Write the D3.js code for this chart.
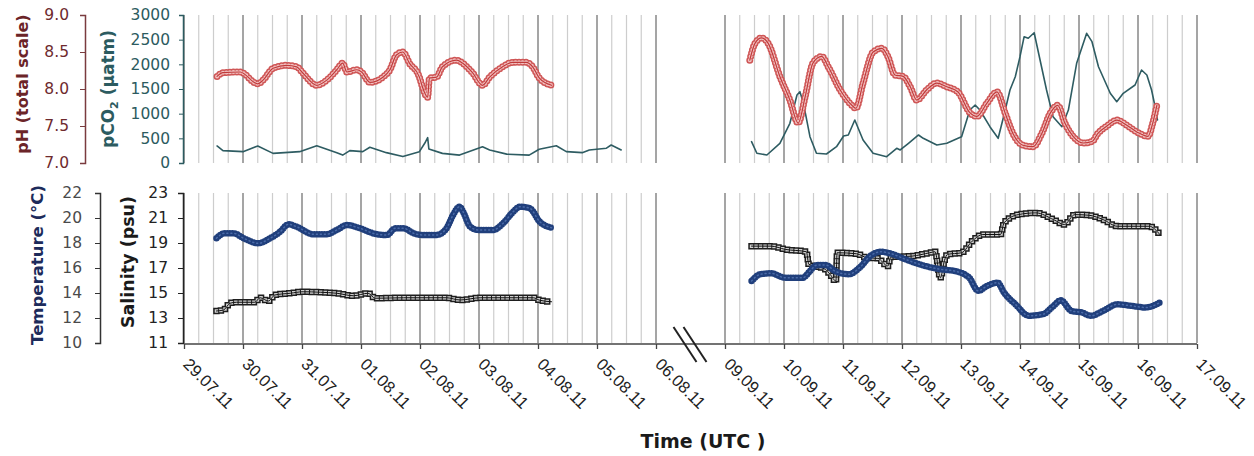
<!DOCTYPE html>
<meta charset="utf-8">
<style>
body{margin:0;background:#fff;}
svg{display:block;}
.tick text{font-family:"DejaVu Sans",Verdana,sans-serif;font-size:15.5px;}
.xaxis .tick text{font-family:"Liberation Sans",Arial,sans-serif;font-size:16.5px;fill:#222;}
.ytitle{font-family:"DejaVu Sans",Verdana,sans-serif;font-weight:bold;}
</style>
<body>
<script src="https://cdn.jsdelivr.net/npm/d3@7"></script>
<script>
// time is in days since the first tick of each segment
var leftTicks = ["29.07.11","30.07.11","31.07.11","01.08.11","02.08.11","03.08.11","04.08.11","05.08.11","06.08.11"];
var rightTicks = ["09.09.11","10.09.11","11.09.11","12.09.11","13.09.11","14.09.11","15.09.11","16.09.11","17.09.11"];

var phLeft = [[0.56,8.17],[0.66,8.22],[0.95,8.23],[1.25,8.07],[1.34,8.12],[1.51,8.28],[1.74,8.32],[1.91,8.30],[2.01,8.22],[2.25,8.05],[2.42,8.12],[2.59,8.26],[2.69,8.35],[2.76,8.23],[2.93,8.26],[3.01,8.23],[3.15,8.09],[3.37,8.16],[3.49,8.26],[3.60,8.46],[3.71,8.50],[3.82,8.35],[3.99,8.16],[4.04,8.03],[4.13,7.89],[4.16,8.15],[4.28,8.16],[4.38,8.30],[4.62,8.39],[4.72,8.35],[4.89,8.22],[5.06,8.05],[5.18,8.16],[5.40,8.30],[5.57,8.36],[5.80,8.36],[5.91,8.30],[6.02,8.15],[6.23,8.05]];
var co2Left = [[0.56,345],[0.66,250],[1.00,230],[1.25,345],[1.51,195],[1.96,230],[2.25,350],[2.59,210],[2.69,160],[2.81,250],[3.03,230],[3.15,320],[3.43,210],[3.71,130],[3.99,230],[4.08,400],[4.13,515],[4.15,285],[4.38,195],[4.67,160],[5.06,330],[5.18,265],[5.47,180],[5.85,160],[6.02,280],[6.31,350],[6.48,230],[6.75,210],[6.87,265],[7.16,300],[7.24,365],[7.41,265]];
var phRight = [[0.42,8.39],[0.51,8.62],[0.62,8.69],[0.73,8.62],[0.93,8.17],[1.10,7.85],[1.24,7.54],[1.36,7.90],[1.49,8.35],[1.64,8.44],[1.75,8.30],[1.95,7.99],[2.15,7.78],[2.22,7.74],[2.34,8.08],[2.51,8.50],[2.66,8.55],[2.76,8.44],[2.88,8.19],[3.02,8.17],[3.14,8.03],[3.25,7.85],[3.42,7.99],[3.59,8.08],[3.76,8.03],[3.95,7.96],[4.15,7.68],[4.27,7.63],[4.44,7.81],[4.61,7.96],[4.75,7.67],[4.88,7.40],[5.05,7.24],[5.22,7.22],[5.37,7.40],[5.51,7.67],[5.64,7.78],[5.76,7.54],[5.90,7.36],[6.07,7.27],[6.22,7.29],[6.32,7.40],[6.49,7.51],[6.64,7.58],[6.81,7.51],[6.98,7.42],[7.17,7.36],[7.25,7.54],[7.32,7.78]];
var co2Right = [[0.45,432],[0.54,197],[0.71,162],[0.93,399],[1.10,805],[1.22,1378],[1.27,1445],[1.33,1210],[1.44,533],[1.55,197],[1.72,182],[1.89,330],[2.01,547],[2.09,568],[2.20,872],[2.34,466],[2.51,197],[2.74,128],[2.91,298],[2.97,264],[3.11,399],[3.28,568],[3.36,501],[3.59,365],[3.76,399],[3.95,501],[4.01,533],[4.15,1074],[4.24,1176],[4.32,1074],[4.49,736],[4.63,501],[4.75,1074],[4.83,1480],[4.92,1749],[5.00,2155],[5.07,2560],[5.14,2528],[5.24,2641],[5.34,2088],[5.45,1480],[5.56,939],[5.71,736],[5.82,1074],[5.96,2021],[6.13,2629],[6.22,2459],[6.33,1952],[6.53,1413],[6.64,1243],[6.75,1413],[6.95,1581],[7.06,1885],[7.15,1784],[7.23,1480],[7.29,1141],[7.33,872]];

var tempLeft = [[0.55,18.38],[0.69,18.78],[0.84,18.78],[1.01,18.38],[1.26,17.98],[1.46,18.38],[1.63,18.90],[1.77,19.50],[1.91,19.30],[2.19,18.70],[2.42,18.70],[2.59,19.04],[2.76,19.44],[2.98,19.18],[3.27,18.70],[3.44,18.64],[3.58,19.18],[3.72,19.18],[3.89,18.78],[4.06,18.64],[4.28,18.64],[4.45,19.18],[4.56,20.24],[4.67,20.90],[4.73,20.50],[4.85,19.30],[4.99,19.04],[5.24,19.04],[5.41,19.58],[5.58,20.50],[5.69,20.90],[5.86,20.78],[6.03,19.70],[6.23,19.22]];
var salLeft = [[0.55,13.56],[0.67,13.64],[0.78,14.18],[0.89,14.26],[1.20,14.26],[1.29,14.62],[1.43,14.36],[1.54,14.84],[1.80,14.98],[2.02,15.10],[2.31,15.06],[2.59,14.98],[2.87,14.78],[3.12,14.98],[3.24,14.58],[3.72,14.62],[4.45,14.62],[4.68,14.44],[5.02,14.62],[5.92,14.62],[6.03,14.42],[6.23,14.30]];
var tempRight = [[0.45,14.96],[0.60,15.50],[0.78,15.58],[1.02,15.22],[1.32,15.22],[1.44,15.76],[1.56,16.24],[1.71,16.24],[1.86,15.76],[2.10,15.50],[2.28,16.02],[2.46,16.95],[2.64,17.30],[2.82,17.14],[3.06,16.69],[3.30,16.29],[3.66,15.89],[3.89,15.76],[4.14,15.22],[4.29,14.17],[4.44,14.56],[4.62,14.83],[4.73,14.03],[4.92,13.10],[5.15,12.18],[5.39,12.30],[5.57,12.97],[5.69,13.42],[5.87,12.57],[6.05,12.44],[6.20,12.18],[6.41,12.57],[6.65,13.10],[6.89,12.97],[7.13,12.84],[7.37,13.23]];
var salRight = [[0.45,18.75],[0.78,18.75],[1.02,18.49],[1.38,18.30],[1.42,17.30],[1.70,16.90],[1.78,16.50],[1.88,15.96],[1.90,18.22],[2.23,18.14],[2.41,17.82],[2.59,17.77],[2.76,17.16],[2.81,17.87],[3.17,17.95],[3.47,18.22],[3.56,18.30],[3.65,16.22],[3.72,17.60],[3.77,18.09],[4.01,18.22],[4.19,19.15],[4.37,19.68],[4.67,19.68],[4.73,20.61],[4.97,21.27],[5.27,21.41],[5.57,20.87],[5.75,20.48],[5.93,21.27],[6.17,21.22],[6.41,20.87],[6.65,20.34],[7.19,20.34],[7.37,19.68]];

var W = 1254, H = 456;
var svg = d3.select("body").append("svg").attr("width", W).attr("height", H);

var xL = d3.scaleLinear().domain([0, 8]).range([184, 656]);
var xR = d3.scaleLinear().domain([0, 8]).range([725, 1197]);
var yPH = d3.scaleLinear().domain([7, 9]).range([163, 15]);
var yCO2 = d3.scaleLinear().domain([0, 3000]).range([163, 15]);
var yT = d3.scaleLinear().domain([10, 22]).range([343, 193]);
var yS = d3.scaleLinear().domain([11, 23]).range([343, 193]);

// vertical grid, every 6 h, darker at midnight
var grid = svg.append("g");
[xL, xR].forEach(function(x){
  d3.range(0, 8.001, 0.25).forEach(function(t){
    var day = Math.abs(t - Math.round(t)) < 1e-6;
    [[15, 163], [193, 343]].forEach(function(r){
      grid.append("line")
        .attr("x1", x(t)).attr("x2", x(t))
        .attr("y1", r[0]).attr("y2", r[1])
        .attr("stroke", day ? "#8f8f8f" : "#cdcdcd")
        .attr("stroke-width", day ? 1.6 : 1.2);
    });
  });
});

function drawSeries(data, x, y, layers, curve){
  var line = d3.line().x(d => x(d[0])).y(d => y(d[1])).curve(curve || d3.curveMonotoneX);
  layers.forEach(function(s){
    svg.append("path").datum(data).attr("d", line)
      .attr("fill", "none")
      .attr("stroke", s.c).attr("stroke-width", s.w)
      .attr("stroke-linecap", s.cap || "round")
      .attr("stroke-linejoin", "round")
      .attr("stroke-dasharray", s.dash || null);
  });
}

var phStyle = [{c:"#cf5656", w:7, dash:"0,3.5"}, {c:"#f1c0c0", w:4, dash:"0,3.5"}, {c:"#c03a3a", w:1.2}];
var co2Style = [{c:"#2e5c62", w:1.6}];
var tStyle = [{c:"#203f7c", w:6.5, dash:"0,2.5"}, {c:"#4b6ba8", w:1.5, dash:"1,3"}];
var sStyle = [{c:"#1e1e1e", w:6.5, cap:"square", dash:"0,4.5"}, {c:"#cfcfcf", w:3.5, cap:"square", dash:"0,4.5"}, {c:"#111", w:1}];

drawSeries(co2Left, xL, yCO2, co2Style, d3.curveLinear);
drawSeries(phLeft, xL, yPH, phStyle);
drawSeries(co2Right, xR, yCO2, co2Style, d3.curveLinear);
drawSeries(phRight, xR, yPH, phStyle);
drawSeries(tempLeft, xL, yT, tStyle);
drawSeries(salLeft, xL, yS, sStyle);
drawSeries(salRight, xR, yS, sStyle);
drawSeries(tempRight, xR, yT, tStyle);

// y axes
function yAxis(scale, x, vals, fmt, size, pad, lineCol, textCol){
  var g = svg.append("g").attr("transform", "translate(" + x + ",0)")
    .call(d3.axisLeft(scale).tickValues(vals).tickFormat(fmt).tickSize(size).tickPadding(pad));
  g.select(".domain").attr("stroke", lineCol).attr("stroke-width", 1.5);
  g.selectAll(".tick line").attr("stroke", lineCol);
  g.selectAll(".tick text").attr("fill", textCol);
  return g;
}
yAxis(yPH, 85, [7, 7.5, 8, 8.5, 9], d3.format(".1f"), 5, 11, "#7a3b3e", "#6e2a2e");
yAxis(yCO2, 183, d3.range(0, 3001, 500), d3.format("d"), 4, 9, "#2c5b60", "#2c5b60");
yAxis(yT, 100, d3.range(10, 23, 2), d3.format("d"), 5, 13, "#333", "#4a4a4a");
yAxis(yS, 183, d3.range(11, 24, 2), d3.format("d"), 5, 10, "#222", "#222");

// x axis with a break
svg.append("line").attr("x1", xL(0)).attr("x2", xR(8)).attr("y1", 344).attr("y2", 344)
  .attr("stroke", "#444").attr("stroke-width", 1.5);
[[xL, leftTicks], [xR, rightTicks]].forEach(function(p){
  var g = svg.append("g").attr("class", "xaxis").attr("transform", "translate(0,344)")
    .call(d3.axisBottom(p[0]).tickValues(d3.range(9)).tickFormat(i => p[1][i]).tickSize(5).tickPadding(0));
  g.select(".domain").remove();
  g.selectAll(".tick line").attr("stroke", "#444").attr("stroke-width", 1.3);
  g.selectAll(".tick text")
    .attr("x", 0).attr("y", 0).attr("dy", "0.71em")
    .attr("transform", "translate(6,13) rotate(45)")
    .style("text-anchor", "start");
});
var bx = (xL(8) + xR(0)) / 2;
[-5, 5].forEach(function(o){
  svg.append("line")
    .attr("x1", bx + o - 12).attr("y1", 327)
    .attr("x2", bx + o + 11).attr("y2", 362)
    .attr("stroke", "#222").attr("stroke-width", 2);
});

// titles
function yTitle(txt, x, y, size, col){
  return svg.append("text").attr("class", "ytitle")
    .attr("transform", "translate(" + x + "," + y + ") rotate(-90)")
    .attr("text-anchor", "middle").attr("font-size", size).attr("fill", col).text(txt);
}
yTitle("pH (total scale)", 28, 84, 16, "#6b2428");
var t2 = yTitle("pCO", 114, 89, 17, "#2c5b60");
t2.append("tspan").attr("font-size", 11).attr("dy", 4).text("2");
t2.append("tspan").attr("dy", -4).text(" (µatm)");
yTitle("Temperature (°C)", 43, 265, 16.5, "#1d2b5b");
yTitle("Salinity (psu)", 134, 262, 17.5, "#1a1a1a");

svg.append("text").attr("class", "ytitle")
  .attr("x", 703).attr("y", 448).attr("text-anchor", "middle")
  .attr("font-size", 19).attr("fill", "#1a1a1a").text("Time (UTC )");
</script>
</body>
</html>
